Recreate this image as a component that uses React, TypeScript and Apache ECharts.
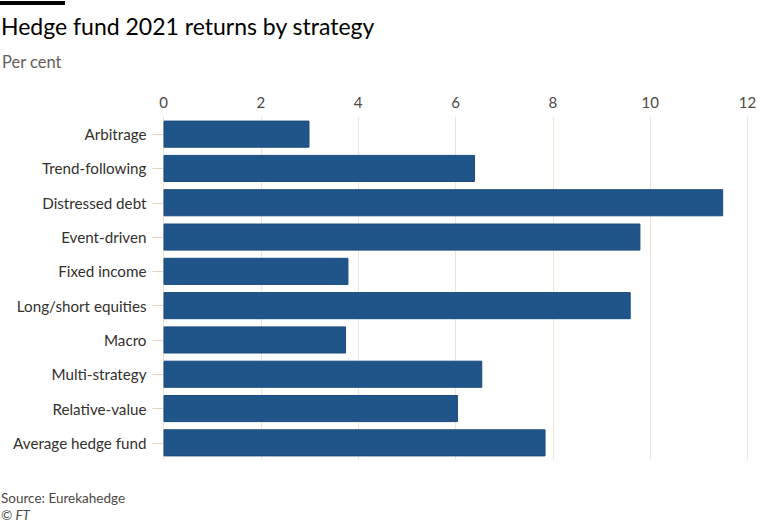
import React, { useEffect, useRef } from "react";
import * as echarts from "echarts";

const categories = [
  "Arbitrage",
  "Trend-following",
  "Distressed debt",
  "Event-driven",
  "Fixed income",
  "Long/short equities",
  "Macro",
  "Multi-strategy",
  "Relative-value",
  "Average hedge fund",
];
const returns2021 = [3.0, 6.4, 11.5, 9.8, 3.8, 9.6, 3.75, 6.55, 6.05, 7.85];
const xTicks = { min: 0, max: 12, interval: 2 };

const FONT = "Lato, 'Noto Sans', sans-serif";

export default function App() {
  const ref = useRef<HTMLDivElement>(null);
  useEffect(() => {
    if (!ref.current) return;
    const chart = echarts.init(ref.current, null, { renderer: "svg" });
    chart.setOption({
      animation: false,
      backgroundColor: "#ffffff",
      textStyle: { fontFamily: FONT },
      graphic: [
        { type: "rect", shape: { x: 0, y: 1, width: 65, height: 4 }, style: { fill: "#000000" } },
        {
          type: "text",
          left: 1,
          top: 14,
          style: { text: "Hedge fund 2021 returns by strategy", fontSize: 23, fill: "#000000", fontFamily: FONT },
        },
        {
          type: "text",
          left: 2,
          top: 53,
          style: { text: "Per cent", fontSize: 16.5, fill: "#66605c", fontFamily: FONT },
        },
        {
          type: "text",
          left: 1,
          top: 491,
          style: { text: "Source: Eurekahedge", fontSize: 13.5, fill: "#4d4845", fontFamily: FONT },
        },
        {
          type: "text",
          left: 1,
          top: 508,
          style: { text: "© FT", fontSize: 13.5, fontStyle: "italic", fill: "#4d4845", fontFamily: FONT },
        },
      ],
      grid: { left: 163.5, top: 117, width: 584, height: 343, containLabel: false },
      xAxis: {
        type: "value",
        position: "top",
        min: xTicks.min,
        max: xTicks.max,
        interval: xTicks.interval,
        axisLine: { show: false },
        axisTick: { show: false },
        axisLabel: { color: "#4d4845", fontSize: 15, margin: 8, fontFamily: FONT },
        splitLine: { show: true, lineStyle: { color: "#f3e3d3", width: 1 } },
      },
      yAxis: {
        type: "category",
        data: categories,
        inverse: true,
        axisLine: { show: true, lineStyle: { color: "#f0dcc8", width: 1 } },
        axisTick: { show: true, alignWithLabel: true, length: 11, lineStyle: { color: "#e6d2c0" } },
        axisLabel: { color: "#33302e", fontSize: 15.2, margin: 17, fontFamily: FONT },
      },
      series: [
        {
          type: "bar",
          data: returns2021,
          barCategoryGap: "21%",
          itemStyle: { color: "#20558a", borderColor: "#1b4a7d", borderWidth: 1 },
        },
      ],
    });
    return () => chart.dispose();
  }, []);
  return (
    <div
      ref={ref}
      style={{ position: "absolute", left: 0, top: 0, width: 760, height: 524 }}
    />
  );
}
